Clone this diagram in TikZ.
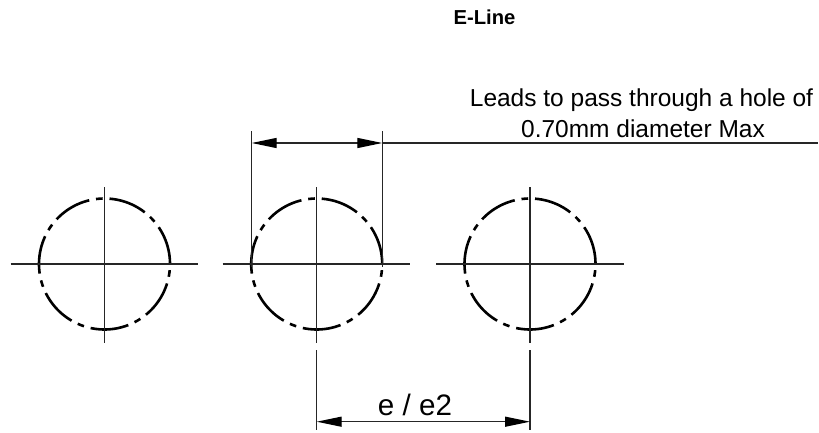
\documentclass[tikz,border=0pt]{standalone}
\usepackage{fontspec}
\setmainfont{Liberation Sans}
\usetikzlibrary{arrows.meta}
\tikzset{
  thinline/.style={line width=1.25pt,black!85},
  holecircle/.style={line width=2.6pt,black,dash pattern=on 38.3pt off 6.9pt on 6.7pt off 6.9pt},
  dimline/.style={line width=1.25pt,black!85,{Triangle[length=25pt,width=10pt,black]}-{Triangle[length=25pt,width=10pt,black]}},
  labeltext/.style={font=\fontsize{24.5pt}{28pt}\selectfont,inner sep=0pt,anchor=base}
}
\begin{document}
\begin{tikzpicture}[x=1pt,y=1pt]
\useasboundingbox (0,0) rectangle (819,432);
\coordinate (c1) at (104.5,168);
\coordinate (c2) at (316.7,168);
\coordinate (c3) at (530,168);
\foreach \c in {c1,c2,c3}{
  \draw[holecircle] (\c) ++(85.6:65.5pt) arc[start angle=85.6,end angle=-274.4,radius=65.5pt];
  \draw[thinline] (\c) ++(-94,0) -- ++(187.5,0);
  \draw[thinline] (\c) ++(0,77) -- ++(0,-156);
}
\coordinate (aL) at (251.7,289);
\coordinate (aR) at (382.3,289);
\coordinate (aE) at (818,289);
\coordinate (bL) at (316.7,10.3);
\coordinate (bR) at (530,10.3);
\draw[thinline] (251.7,301) -- (251.7,165);
\draw[thinline] (382.3,301) -- (382.3,165);
\draw[dimline] (aL) -- (aR);
\draw[thinline] (aR) -- (aE);
\draw[thinline] (316.7,82) -- (316.7,2);
\draw[thinline] (530,82) -- (530,2);
\draw[dimline] (bL) -- (bR);
\node[font=\bfseries\fontsize{20.2pt}{24pt}\selectfont,inner sep=0pt,anchor=base] (title) at (484.5,407) {E-Line};
\node[labeltext] (lead1) at (641.5,325.3) {Leads to pass through a hole of};
\node[labeltext] (lead2) at (643,294.7) {0.70mm diameter Max};
\node[labeltext,font=\fontsize{29.6pt}{34pt}\selectfont] (dim) at (415,17) {e / e2};
\end{tikzpicture}
\end{document}
